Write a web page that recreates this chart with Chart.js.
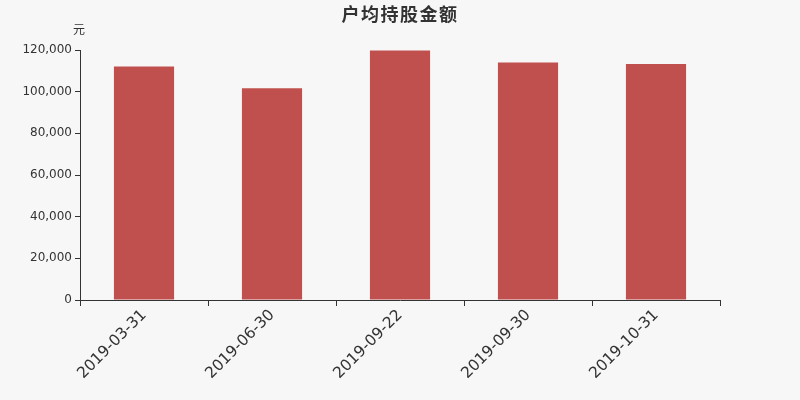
<!DOCTYPE html>
<html>
<head>
<meta charset="utf-8">
<script src="https://cdn.jsdelivr.net/npm/chart.js@4/dist/chart.umd.min.js"></script>
<style>
  html, body { margin: 0; padding: 0; background: #f7f7f7; }
  #wrap { width: 800px; height: 400px; }
</style>
</head>
<body>
<div id="wrap"><canvas id="chart"></canvas></div>
<script>
// chart data
const categories = ['2019-03-31', '2019-06-30', '2019-09-22', '2019-09-30', '2019-10-31'];
const avgHolding = [112100, 101600, 119800, 114000, 113300];
const yTicks = [0, 20000, 40000, 60000, 80000, 100000, 120000];

const chartTitle = '户均持股金额';
const unitLabel = '元';

// Format numbers with thousands separators
const formatNumber = (value) => value.toString().replace(/\B(?=(\d{3})+(?!\d))/g, ',');

// draws title and unit text above the plot
const headerPlugin = {
  id: 'header',
  afterDraw(chart) {
    const { ctx } = chart;
    ctx.save();
    ctx.fillStyle = '#333';
    ctx.textAlign = 'center';
    ctx.textBaseline = 'middle';
    ctx.font = 'bold 18px "Noto Sans CJK SC", sans-serif';
    ctx.letterSpacing = '1.5px';
    ctx.fillText(chartTitle, 400, 14);
    ctx.letterSpacing = '0px';
    ctx.font = '12px "Noto Sans CJK SC", sans-serif';
    ctx.fillText(unitLabel, 79, 29);
    ctx.restore();
  }
};

const bgPlugin = {
  id: 'bg',
  beforeDraw(chart) {
    const { ctx } = chart;
    ctx.save();
    ctx.fillStyle = '#f7f7f7';
    ctx.fillRect(0, 0, chart.width, chart.height);
    ctx.restore();
  }
};

new Chart(document.getElementById('chart'), {
  type: 'bar',
  data: {
    labels: categories,
    datasets: [{
      data: avgHolding,
      backgroundColor: '#c0504d',
      barPercentage: 0.47,
      categoryPercentage: 1.0,
    }],
  },
  options: {
    responsive: true,
    maintainAspectRatio: false,
    animation: false,
    layout: { padding: { top: 50, right: 80, left: 0, bottom: 0 } },
    plugins: {
      legend: { display: false },
      tooltip: { enabled: false },
    },
    scales: {
      x: {
        afterFit: (scale) => { scale.height = 100; },
        grid: {
          display: true,
          drawOnChartArea: false,
          drawTicks: true,
          tickLength: 6,
          color: '#333',
          offset: true,
        },
        border: { color: '#333', width: 1 },
        ticks: {
          color: '#333',
          font: { family: '"DejaVu Sans", sans-serif', size: 15.5 },
          minRotation: 45,
          maxRotation: 45,
          padding: 0,
        },
      },
      y: {
        min: 0,
        max: 120000,
        afterFit: (scale) => { scale.width = 80; },
        afterBuildTicks: (scale) => { scale.ticks = yTicks.map((v) => ({ value: v })); },
        grid: {
          display: true,
          drawOnChartArea: false,
          drawTicks: true,
          tickLength: 5,
          color: '#333',
        },
        border: { color: '#333', width: 1 },
        ticks: {
          color: '#333',
          font: { family: '"DejaVu Sans", sans-serif', size: 12 },
          padding: 3,
          callback: (value) => formatNumber(value),
        },
      },
    },
  },
  plugins: [bgPlugin, headerPlugin],
});
</script>
</body>
</html>
